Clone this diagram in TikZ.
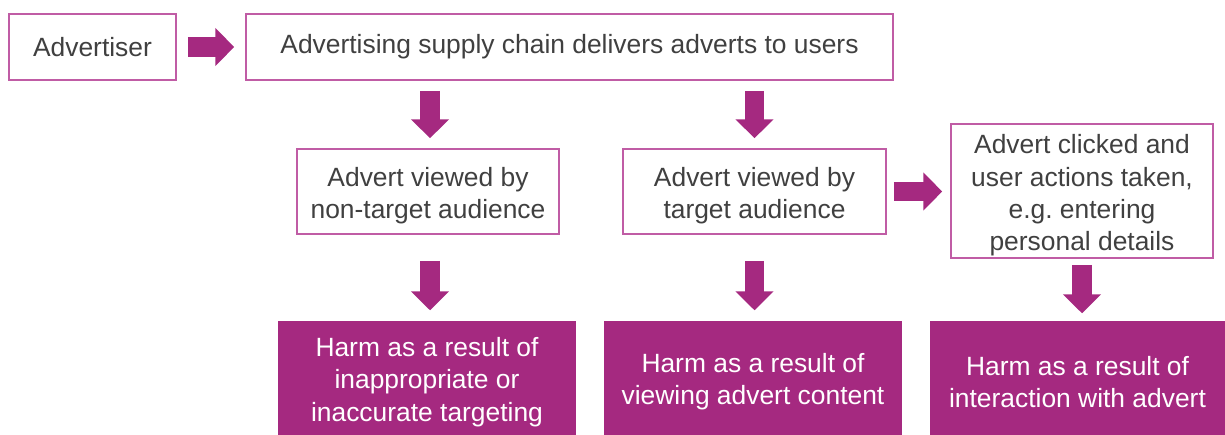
\documentclass[tikz,border=0pt]{standalone}
\usepackage{fontspec}
\setmainfont{Liberation Sans}
\frenchspacing
\usetikzlibrary{arrows.meta,calc}
\definecolor{plum}{RGB}{165,41,128}
\definecolor{plumline}{RGB}{192,92,165}
\definecolor{txt}{RGB}{64,64,64}
\newcommand{\topstrut}{\rule{0pt}{28pt}}
\tikzset{
  outlined/.style={draw=plumline, line width=1.5pt, fill=white, text=txt, align=center, inner sep=0pt,
    font=\fontsize{26.4}{32.3}\selectfont},
  filledbox/.style={fill=plum, draw=none, text=white, align=center, inner sep=0pt,
    font=\fontsize{26.4}{32.3}\selectfont},
  blockarrow/.style={draw=plum, line width=19.5pt, line cap=butt,
    -{Triangle[width=37pt,length=19pt]}}
}
\begin{document}
\begin{tikzpicture}[x=1pt,y=-1pt]
\useasboundingbox (0,0) rectangle (1225,434);
\node[outlined, minimum width=167pt, minimum height=66pt] (adv) at (92.5,47) {Advertiser};
\node[outlined, minimum width=647pt, minimum height=66pt] (top) at (569.5,47) {Advertising supply chain delivers adverts to users};
\node[outlined, minimum width=262pt, minimum height=85pt] (nt) at (428,191.5) {\topstrut Advert viewed by\\non-target audience};
\node[outlined, minimum width=263pt, minimum height=85pt] (ta) at (754.5,191.5) {\topstrut Advert viewed by\\target audience};
\node[outlined, minimum width=262pt, minimum height=134pt] (cl) at (1082,191) {\topstrut Advert clicked and\\user actions taken,\\e.g. entering\\personal details};
\node[filledbox, minimum width=298pt, minimum height=114pt] (h1) at (427,377.5) {\topstrut Harm as a result of\\inappropriate or\\inaccurate targeting};
\node[filledbox, minimum width=298pt, minimum height=114pt] (h2) at (753,377.5) {\topstrut Harm as a result of\\viewing advert content};
\node[filledbox, minimum width=295pt, minimum height=114pt] (h3) at (1077.5,377.5) {\topstrut Harm as a result of\\interaction with advert};

\draw[blockarrow, shorten <=11pt, shorten >=11pt] (adv.east) -- (top.west |- adv.east);
\draw[blockarrow, shorten <=10pt, shorten >=10pt] ($(nt.north |- top.south)+(2,0)$) -- ($(nt.north)+(2,0)$);
\draw[blockarrow, shorten <=10pt, shorten >=10pt] (ta.north |- top.south) -- (ta.north);
\draw[blockarrow, shorten <=7pt, shorten >=8pt] (ta.east) -- (cl.west |- ta.east);
\draw[blockarrow, shorten <=26pt, shorten >=10pt] ($(nt.south)+(2,0)$) -- ($(nt.south |- h1.north)+(2,0)$);
\draw[blockarrow, shorten <=26pt, shorten >=10pt] (ta.south) -- (ta.south |- h2.north);
\draw[blockarrow, shorten <=6pt, shorten >=7pt] (cl.south) -- (cl.south |- h3.north);
\end{tikzpicture}
\end{document}
